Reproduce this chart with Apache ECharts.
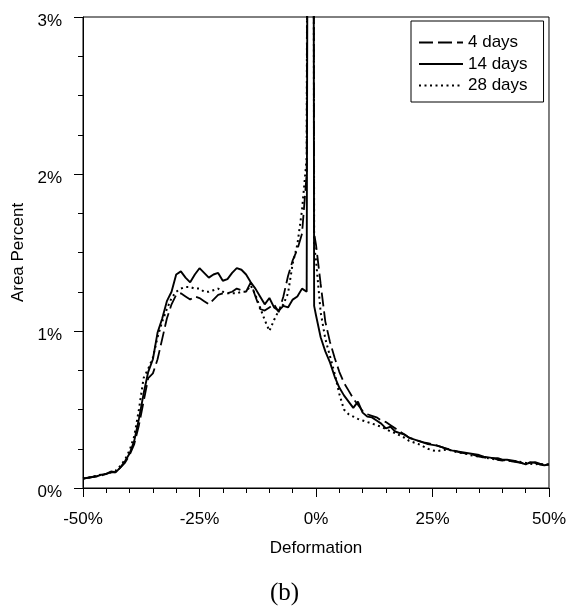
<!DOCTYPE html>
<html>
<head>
<meta charset="utf-8">
<script src="https://cdn.jsdelivr.net/npm/echarts@6/dist/echarts.min.js"></script>
<style>
  html, body { margin: 0; padding: 0; background: #fff; }
  #chart { width: 569px; height: 610px; }
</style>
</head>
<body>
<div id="chart"></div>
<script>
// Deformation (%) sample positions shared by all curves
const deformation = [
  -50, -49, -48, -47, -46, -45, -44, -43, -42, -41,
  -40, -39, -38, -37, -36, -35, -34, -33, -32, -31,
  -30, -29, -28, -27, -26, -25, -24, -23, -22, -21,
  -20, -19, -18, -17, -16, -15, -14, -13, -12, -11,
  -10, -9, -8, -7, -6, -5, -4, -3, -2,
  -1, -0.4,
  0, 1, 2, 3, 4, 5, 6, 7, 8, 9,
  10, 11, 12, 13, 14, 15, 16, 17, 18, 19,
  20, 21, 22, 23, 24, 25, 26, 27, 28, 29,
  30, 31, 32, 33, 34, 35, 36, 37, 38, 39,
  40, 41, 42, 43, 44, 45, 46, 47, 48, 49, 50
];

// Area percent (%) per curing age
const days4 = [
  0.06, 0.065, 0.07, 0.075, 0.08, 0.09, 0.10, 0.10, 0.13, 0.16,
  0.21, 0.28, 0.40, 0.55, 0.70, 0.73, 0.82, 0.95, 1.08, 1.17,
  1.23, 1.24, 1.22, 1.20, 1.22, 1.21, 1.19, 1.17, 1.20, 1.23,
  1.24, 1.24, 1.25, 1.27, 1.26, 1.25, 1.31, 1.22, 1.14, 1.13,
  1.15, 1.17, 1.12, 1.22, 1.35, 1.45, 1.52, 1.62, 2.00,
  15, 1.62,
  1.55, 1.30, 1.06, 0.93, 0.83, 0.74, 0.67, 0.62, 0.57, 0.53,
  0.49, 0.47, 0.46, 0.45, 0.43, 0.42, 0.40, 0.38, 0.36, 0.34,
  0.32, 0.31, 0.30, 0.29, 0.285, 0.28, 0.27, 0.26, 0.25, 0.245,
  0.235, 0.225, 0.22, 0.215, 0.21, 0.20, 0.195, 0.19, 0.19, 0.18,
  0.175, 0.18, 0.17, 0.165, 0.16, 0.155, 0.16, 0.165, 0.155, 0.15, 0.15
];

const days14 = [
  0.06, 0.065, 0.07, 0.075, 0.085, 0.09, 0.105, 0.10, 0.13, 0.17,
  0.22, 0.30, 0.44, 0.60, 0.74, 0.82, 0.99, 1.08, 1.19, 1.25,
  1.36, 1.38, 1.34, 1.31, 1.36, 1.40, 1.37, 1.34, 1.36, 1.37,
  1.32, 1.33, 1.37, 1.40, 1.39, 1.36, 1.31, 1.27, 1.22, 1.17,
  1.21, 1.15, 1.13, 1.16, 1.15, 1.20, 1.22, 1.27, 1.25,
  15, 1.16,
  1.10, 0.96, 0.87, 0.80, 0.71, 0.64, 0.59, 0.55, 0.51, 0.55,
  0.48, 0.455, 0.45, 0.43, 0.41, 0.38, 0.39, 0.36, 0.35, 0.34,
  0.32, 0.31, 0.30, 0.29, 0.28, 0.275, 0.27, 0.26, 0.25, 0.24,
  0.235, 0.23, 0.225, 0.22, 0.215, 0.21, 0.20, 0.195, 0.19, 0.19,
  0.18, 0.18, 0.175, 0.17, 0.16, 0.15, 0.165, 0.16, 0.15, 0.145, 0.15
];

const days28 = [
  0.06, 0.065, 0.07, 0.08, 0.085, 0.09, 0.10, 0.11, 0.14, 0.18,
  0.24, 0.33, 0.50, 0.70, 0.76, 0.83, 0.96, 1.06, 1.14, 1.21,
  1.25, 1.27, 1.28, 1.28, 1.27, 1.27, 1.25, 1.25, 1.26, 1.27,
  1.25, 1.24, 1.24, 1.24, 1.25, 1.25, 1.29, 1.23, 1.15, 1.07,
  1.00, 1.07, 1.13, 1.17, 1.24, 1.43, 1.55, 1.77, 2.10,
  15, 1.55,
  1.45, 1.12, 0.95, 0.84, 0.73, 0.60, 0.50, 0.47, 0.455, 0.44,
  0.43, 0.42, 0.41, 0.40, 0.39, 0.375, 0.36, 0.35, 0.335, 0.32,
  0.30, 0.29, 0.28, 0.265, 0.25, 0.24, 0.235, 0.24, 0.245, 0.24,
  0.23, 0.225, 0.22, 0.21, 0.205, 0.20, 0.195, 0.19, 0.185, 0.18,
  0.18, 0.175, 0.17, 0.17, 0.165, 0.16, 0.155, 0.15, 0.155, 0.15, 0.15
];

const seriesNames = ['4 days', '14 days', '28 days'];
const xTicks = { min: -50, max: 50, step: 25 };
const yTicks = { min: 0, max: 3, step: 1 };

const pairs = ys => deformation.map((x, i) => [x, ys[i]]);

const FONT = '"Liberation Sans", Arial, sans-serif';

const chart = echarts.init(document.getElementById('chart'), null, { renderer: 'canvas' });

chart.setOption({
  backgroundColor: '#ffffff',
  animation: false,
  title: {
    text: '(b)',
    left: 'center',
    top: 576,
    textStyle: { fontFamily: '"Liberation Serif", "Times New Roman", serif', fontSize: 25, fontWeight: 'normal', color: '#000' }
  },
  grid: {
    left: 83, right: 15, top: 17, bottom: 122,
    show: true, borderColor: '#000', borderWidth: 1, backgroundColor: 'transparent'
  },
  legend: {
    orient: 'vertical',
    left: 411, top: 21,
    padding: [13, 16, 8, 7],
    itemWidth: 44, itemHeight: 17, itemGap: 4.5,
    borderColor: '#000', borderWidth: 1,
    backgroundColor: '#fff',
    itemStyle: { color: 'transparent', borderWidth: 0, opacity: 0 },
    textStyle: { fontFamily: FONT, fontSize: 17, color: '#000' },
    data: seriesNames
  },
  xAxis: {
    type: 'value',
    min: xTicks.min, max: xTicks.max, interval: xTicks.step,
    name: 'Deformation',
    nameLocation: 'middle',
    nameGap: 52,
    nameTextStyle: { fontFamily: FONT, fontSize: 17, color: '#000' },
    axisLine: { show: true, onZero: false, lineStyle: { color: '#000', width: 1 } },
    axisTick: { show: true, length: 9, lineStyle: { color: '#000' } },
    minorTick: { show: true, splitNumber: 5, length: 5, lineStyle: { color: '#000' } },
    splitLine: { show: false },
    axisLabel: { fontFamily: FONT, fontSize: 17, color: '#000', margin: 23, formatter: '{value}%' }
  },
  yAxis: {
    type: 'value',
    min: yTicks.min, max: yTicks.max, interval: yTicks.step,
    name: 'Area Percent',
    nameLocation: 'middle',
    nameGap: 56,
    nameRotate: 90,
    nameTextStyle: { fontFamily: FONT, fontSize: 17, color: '#000' },
    axisLine: { show: true, onZero: false, lineStyle: { color: '#000', width: 1 } },
    axisTick: { show: true, length: 9, lineStyle: { color: '#000' } },
    minorTick: { show: true, splitNumber: 4, length: 5, lineStyle: { color: '#000' } },
    splitLine: { show: false },
    axisLabel: { fontFamily: FONT, fontSize: 17, color: '#000', margin: 21, formatter: '{value}%', verticalAlign: 'top', lineHeight: 8 }
  },
  series: [
    {
      name: seriesNames[0], type: 'line', data: pairs(days4),
      showSymbol: false, symbol: 'none', clip: true,
      lineStyle: { color: '#000', width: 1.8, type: [14, 5] },
      itemStyle: { color: '#000' }
    },
    {
      name: seriesNames[1], type: 'line', data: pairs(days14),
      showSymbol: false, symbol: 'none', clip: true,
      lineStyle: { color: '#000', width: 1.9, type: 'solid' },
      itemStyle: { color: '#000' }
    },
    {
      name: seriesNames[2], type: 'line', data: pairs(days28),
      showSymbol: false, symbol: 'none', clip: true,
      lineStyle: { color: '#000', width: 2, type: [2, 3.5] },
      itemStyle: { color: '#000' }
    }
  ]
});
</script>
</body>
</html>
